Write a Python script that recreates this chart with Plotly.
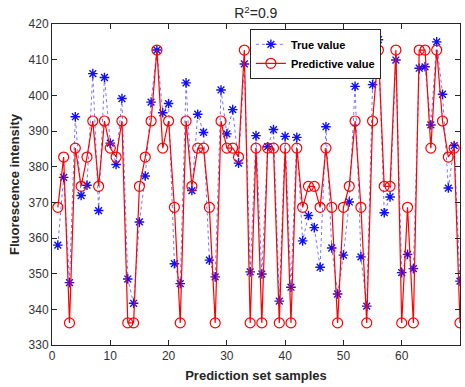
import plotly.graph_objects as go

samples = list(range(1, 71))
true_values = [
    358.0, 377.0, 347.5, 394.0, 371.9, 374.8, 406.1, 367.7, 405.0, 386.6,
    380.6, 399.1, 348.5, 341.7, 364.5, 377.4, 398.1, 412.7, 395.1, 397.7,
    352.8, 347.2, 403.5, 373.3, 394.7, 389.6, 353.8, 349.1, 401.5, 389.2,
    396.0, 381.0, 408.8, 350.5, 388.7, 349.9, 385.6, 390.4, 342.3, 388.5,
    346.2, 388.2, 359.2, 366.3, 362.9, 351.8, 391.2, 357.2, 344.3, 355.2,
    370.1, 402.5, 354.7, 340.9, 403.0, 415.6, 367.1, 371.5, 409.9, 350.3,
    355.4, 351.4, 407.6, 408.0, 391.7, 415.0, 400.3, 374.0, 385.9, 347.9,
]
pred_values = [
    368.6, 382.7, 336.2, 385.2, 374.5, 382.7, 392.8, 374.5, 392.8, 385.2,
    382.7, 392.8, 336.2, 336.2, 374.5, 382.7, 392.8, 412.7, 385.2, 392.8,
    368.6, 336.2, 392.8, 374.5, 385.2, 385.2, 368.6, 336.2, 392.8, 385.2,
    385.2, 382.7, 412.7, 336.2, 385.2, 336.2, 385.2, 385.2, 336.2, 385.2,
    336.2, 385.2, 368.6, 374.5, 374.5, 368.6, 385.2, 368.6, 336.2, 368.6,
    374.5, 392.8, 368.6, 336.2, 392.8, 412.7, 374.5, 374.5, 412.7, 336.2,
    368.6, 336.2, 412.7, 412.7, 385.2, 412.7, 392.8, 382.7, 385.2, 336.2,
]
x_ticks = [0, 10, 20, 30, 40, 50, 60, 70]
y_ticks = [330, 340, 350, 360, 370, 380, 390, 400, 410, 420]

FONT = "Liberation Sans, Arial"

fig = go.Figure()
fig.add_trace(go.Scatter(
    x=samples, y=true_values, mode="lines+markers", name="True value",
    line=dict(color="rgba(60,60,255,0.7)", width=1, dash="dot"),
    marker=dict(symbol="asterisk-open", size=8, color="#1010ff",
                line=dict(color="#1010ff", width=1.4)),
))
fig.add_trace(go.Scatter(
    x=samples, y=pred_values, mode="lines+markers", name="Predictive value",
    line=dict(color="#ff0000", width=1.2),
    marker=dict(symbol="circle-open", size=10, color="#ff0000",
                line=dict(color="#ff0000", width=1.2)),
))

axis_common = dict(
    showgrid=False, zeroline=False, showline=True, linecolor="#262626",
    linewidth=1, mirror="ticks", ticks="inside", ticklen=5,
    tickcolor="#262626", tickfont=dict(family=FONT, size=12, color="#333333"),
)
fig.update_xaxes(range=[0, 70], tickvals=x_ticks,
                 title=dict(text="<b>Prediction set samples</b>", standoff=8,
                            font=dict(family=FONT, size=13, color="#262626")),
                 **axis_common)
fig.update_yaxes(range=[330, 420], tickvals=y_ticks,
                 title=dict(text="<b>Fluorescence intensity</b>", standoff=6,
                            font=dict(family=FONT, size=13, color="#262626")),
                 **axis_common)

fig.update_layout(
    width=465, height=387,
    margin=dict(l=52, r=5, t=24, b=42),
    paper_bgcolor="white", plot_bgcolor="white",
    title=dict(text="R<sup>2</sup>=0.9", x=0.55, xanchor="center", y=0.965, yanchor="middle",
               font=dict(family=FONT, size=14, color="#262626")),
    legend=dict(x=0.485, y=0.985, xanchor="left", yanchor="top",
                bgcolor="white", bordercolor="#262626", borderwidth=1,
                font=dict(family=FONT, size=11, color="black", weight="bold"),
                itemwidth=30, tracegroupgap=0),
    showlegend=True,
)

fig.write_html("out.html")
